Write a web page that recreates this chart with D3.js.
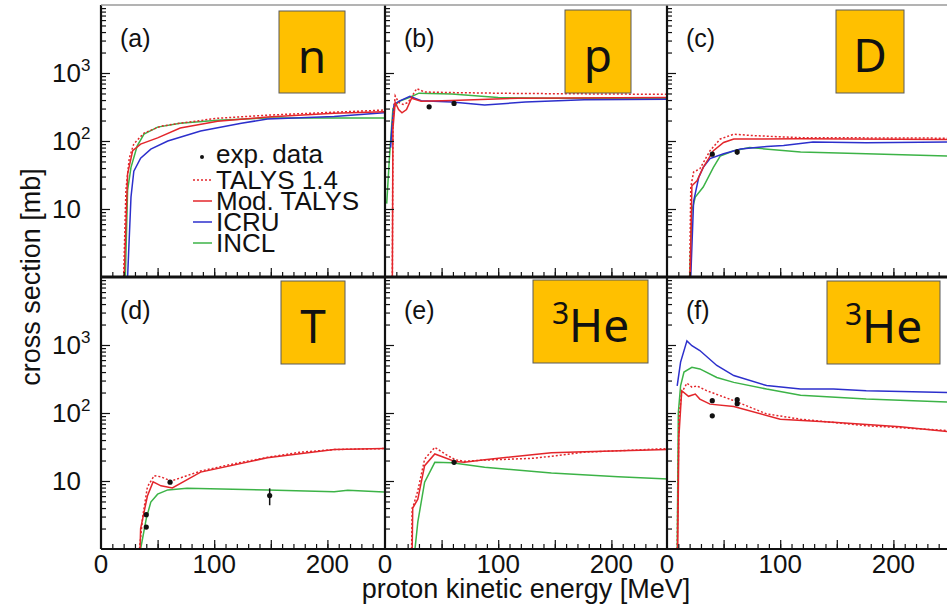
<!DOCTYPE html>
<html>
<head>
<meta charset="utf-8">
<script src="https://cdn.jsdelivr.net/npm/d3@7"></script>
<style>
  body { margin: 0; background: #fff; }
  svg { display: block; }
  text { font-family: "Liberation Sans", Arial, sans-serif; fill: #111; }
  .box text { font-family: "Noto Sans", "Open Sans", sans-serif; }
</style>
</head>
<body>
<div id="plot"></div>
<script>
const width = 947;
const height = 611;
const panelW = 283;
const panelH = 272;
const colX = [101, 385, 667];
const rowY = [5, 277];

// ----- DATA ------------------------------------//
// [energy MeV, cross section mb]
const energyTicks = [0, 100, 200];
const decadeTicks = [10, 100, 1000];
const panelNames = ["(a)", "(b)", "(c)", "(d)", "(e)", "(f)"];
const particles = ["n", "p", "D", "T", "3He", "3He"];

// (a) n
const nTalys = [[20,1],[22,19],[25,56],[29,91],[38,131],[53,165],[70,183],[103,216],[147,240],[206,265],[250,285]];
const nMod = [[20.5,1],[23.5,33],[28,72],[35,90],[50,111],[70,155],[103,195],[147,225],[206,255],[250,270]];
const nIcru = [[23.5,1],[26.5,15],[29,36],[35,56],[44,76],[59,100],[88,140],[124,183],[147,210],[206,230],[250,260]];
const nIncl = [[21.5,1],[23.5,19],[26.5,41],[32,85],[38,126],[50,160],[70,183],[103,202],[147,218],[206,218],[250,218]];
const nExp = [];

// (b) p
const pTalys = [[6.5,1],[7,200],[9,460],[12,370],[16,345],[20.5,370],[28,590],[35,525],[59,515],[118,500],[250,485]];
const pMod = [[6.5,1],[7,150],[9,370],[12,290],[15,260],[19,290],[23.5,425],[32,385],[59,395],[118,425],[250,435]];
const pIcru = [[5,80],[6,150],[8,345],[13,390],[22,455],[32,390],[59,375],[88,337],[124,375],[176,405],[250,410]];
const pIncl = [[1.5,12],[4,60],[7,300],[12,380],[22,440],[30,505],[59,490],[100,435],[150,425],[250,425]];
const pExp = [[39,318],[61,357]];

// (c) D
const dTalys = [[20,1],[21,21],[23.5,35],[29,39],[38,72],[47,107],[59,126],[76,120],[118,112],[250,110]];
const dMod = [[20.5,1],[22,22],[26.5,26],[32,41],[41,72],[50,95],[59,107],[118,108],[250,105]];
const dIcru = [[21,1],[23.5,13],[28,29],[32,41],[38,55],[50,65],[65,76],[88,83],[103,86],[129,97],[176,94],[250,97]];
const dIncl = [[20,1],[22,9.5],[25,15],[32,21],[41,41],[47,60],[59,72],[73,80],[118,69],[176,65],[250,60]];
const dExp = [[40,64],[62,69,63,75]];

// (d) T
const tTalys = [[34,1],[37,3.1],[41,8.2],[47,12],[53,11.5],[62,10],[88,14],[118,18],[147,22.3],[176,26.5],[206,29],[250,30]];
const tMod = [[34.5,1],[35,2],[41,6],[46,9.7],[53,8.5],[63,7.9],[88,13.5],[147,22],[206,29],[250,30]];
const tIncl = [[35,1],[40,2.8],[44,4.9],[50,6.4],[59,7.4],[76,7.8],[147,7.4],[206,6.95],[218,7.3],[250,6.9]];
const tExp = [[40,3.2],[40,2.1],[61,9.6],[149,6.1,4.4,7.8]];

// (e) 3He
const eTalys = [[23.5,1],[24,4],[25,4.3],[29,7.2],[35,21],[44,31.3],[53,25],[62,20.5],[70,19.5],[88,20.3],[132,21.6],[176,26.5],[250,30]];
const eMod = [[24,1],[24.5,4],[29,5.4],[35,16.8],[44,25],[53,22],[62,19.3],[70,18.8],[88,20.6],[147,26],[176,27],[250,29]];
const eIncl = [[26.5,1],[29,2.5],[35,9.6],[44,18.8],[59,18.5],[88,15.9],[147,13.1],[206,11.5],[250,10.7]];
const eExp = [[61,18.8,17.5,20.5]];

// (f) 3He
const fTalys = [[9,1],[10.5,82],[13,200],[17.6,275],[22,240],[26.5,250],[35,213],[59,152],[88,97],[118,81],[176,65],[250,55]];
const fMod = [[9.5,1],[10.5,45],[13,213],[19,176],[25,190],[29,160],[38,135],[59,125],[100,81],[147,73],[206,63],[250,53]];
const fIcru = [[9,250],[12,560],[17.6,1150],[22,975],[29,830],[44,500],[59,355],[88,253],[118,225],[147,225],[176,213],[250,200]];
const fIncl = [[9,1],[10,100],[12,250],[15,400],[22,470],[29,445],[44,333],[59,282],[88,225],[118,183],[176,160],[250,145]];
const fExp = [[40,152],[40,91],[62,157,148,166],[62,137]];

const panelData = [
    { talys: nTalys, mod: nMod, icru: nIcru, incl: nIncl, exp: nExp },
    { talys: pTalys, mod: pMod, icru: pIcru, incl: pIncl, exp: pExp },
    { talys: dTalys, mod: dMod, icru: dIcru, incl: dIncl, exp: dExp },
    { talys: tTalys, mod: tMod, icru: null, incl: tIncl, exp: tExp },
    { talys: eTalys, mod: eMod, icru: null, incl: eIncl, exp: eExp },
    { talys: fTalys, mod: fMod, icru: fIcru, incl: fIncl, exp: fExp }
];

const red = "#e3262b";
const blue = "#2c2fcc";
const green = "#3cb347";

const seriesStyle = [
    { key: "talys", label: "TALYS 1.4", color: red, dash: "2,2" },
    { key: "mod", label: "Mod. TALYS", color: red, dash: null },
    { key: "icru", label: "ICRU", color: blue, dash: null },
    { key: "incl", label: "INCL", color: green, dash: null }
];

// label boxes, hand placed like the original overlay
const boxes = [
    [279, 11, 66, 82], [565, 10, 66, 83], [836, 10, 68, 83],
    [281, 281, 64, 83], [533, 280, 115, 83], [827, 281, 113, 83]
];

// ----- SVG ------------------------------------//
var svg = d3.select("#plot").append("svg")
    .attr("width", width)
    .attr("height", height);

svg.append("defs");

panelData.forEach(function (pd, i) {
    const col = i % 3;
    const row = Math.floor(i / 3);
    const x0 = colX[col];
    const y0 = rowY[row];

    const xScl = d3.scaleLinear().domain([0, 250]).range([x0, x0 + panelW]);
    const yScl = d3.scaleLog().domain([1, 1e4]).range([y0 + panelH, y0]);

    const clipId = "clip" + i;
    svg.select("defs").append("clipPath").attr("id", clipId)
        .append("rect")
        .attr("x", x0).attr("y", y0)
        .attr("width", panelW).attr("height", panelH);

    const g = svg.append("g");
    const lines = g.append("g").attr("clip-path", "url(#" + clipId + ")");

    const line = d3.line()
        .x(d => xScl(d[0]))
        .y(d => yScl(d[1]));

    // draw green, blue, solid red, then dotted red on top
    ["incl", "icru", "mod", "talys"].forEach(function (k) {
        if (!pd[k]) return;
        const st = seriesStyle.find(s => s.key === k);
        lines.append("path")
            .attr("d", line(pd[k]))
            .attr("fill", "none")
            .attr("stroke", st.color)
            .attr("stroke-width", 1.5)
            .attr("stroke-dasharray", st.dash);
    });

    // exp points
    const pts = lines.selectAll(".exp").data(pd.exp).enter().append("g");
    pts.filter(d => d.length > 2).append("line")
        .attr("x1", d => xScl(d[0])).attr("x2", d => xScl(d[0]))
        .attr("y1", d => yScl(d[2])).attr("y2", d => yScl(d[3]))
        .attr("stroke", "#111").attr("stroke-width", 1.5);
    pts.append("circle")
        .attr("cx", d => xScl(d[0]))
        .attr("cy", d => yScl(d[1]))
        .attr("r", 2.6)
        .attr("fill", "#111");

    // y ticks (inward)
    const minor = [];
    for (let e = 0; e < 4; e++) {
        for (let m = 2; m < 10; m++) minor.push(m * Math.pow(10, e));
    }
    const yMinor = d3.axisLeft(yScl).tickValues(minor).tickSize(-5).tickFormat("");
    const yMajor = d3.axisLeft(yScl).tickValues([10, 100, 1000]).tickSize(-9).tickFormat("");
    g.append("g").attr("transform", "translate(" + x0 + ",0)").call(yMinor)
        .call(a => a.select(".domain").remove());
    g.append("g").attr("transform", "translate(" + x0 + ",0)").call(yMajor)
        .call(a => a.select(".domain").remove());

    // x ticks (inward)
    const xMinor = d3.axisBottom(xScl).tickValues(d3.range(10, 250, 10)).tickSize(-5).tickFormat("");
    const xMajor = d3.axisBottom(xScl).tickValues([50, 100, 150, 200]).tickSize(-9).tickFormat("");
    g.append("g").attr("transform", "translate(0," + (y0 + panelH) + ")").call(xMinor)
        .call(a => a.select(".domain").remove());
    g.append("g").attr("transform", "translate(0," + (y0 + panelH) + ")").call(xMajor)
        .call(a => a.select(".domain").remove());
    g.selectAll(".tick line").attr("stroke", "#111").attr("stroke-width", 1.2);

    // left frame line
    g.append("line")
        .attr("x1", x0).attr("x2", x0)
        .attr("y1", y0).attr("y2", y0 + panelH)
        .attr("stroke", "#111").attr("stroke-width", 2.2);

    // y labels only on left column
    if (col === 0) {
        decadeTicks.forEach(function (v) {
            const exp = Math.round(Math.log10(v));
            const t = g.append("text")
                .attr("x", 52)
                .attr("y", yScl(v) + 9)
                .style("font-size", "26px");
            t.append("tspan").text("10");
            if (exp > 1) {
                t.append("tspan").attr("dy", -11).style("font-size", "17px").text(exp);
            }
        });
    }

    // x labels only on bottom row
    if (row === 1) {
        energyTicks.forEach(function (v) {
            g.append("text")
                .attr("x", xScl(v))
                .attr("y", 573)
                .attr("text-anchor", "middle")
                .style("font-size", "26px")
                .text(v);
        });
    }

    // panel tag
    g.append("text")
        .attr("x", x0 + 19)
        .attr("y", y0 + 42)
        .style("font-size", "25px")
        .text(panelNames[i]);

    // particle box
    const b = boxes[i];
    const bx = svg.append("g").attr("class", "box");
    bx.append("rect")
        .attr("x", b[0]).attr("y", b[1])
        .attr("width", b[2]).attr("height", b[3])
        .attr("fill", "#ffc000")
        .attr("stroke", "#5a5a5a")
        .attr("stroke-width", 1);
    const lt = bx.append("text")
        .attr("x", b[0] + b[2] / 2)
        .attr("y", b[1] + 62)
        .attr("text-anchor", "middle")
        .style("font-size", "46px");
    if (particles[i] === "3He") {
        lt.append("tspan").attr("dy", -18).style("font-size", "30px").text("3");
        lt.append("tspan").attr("dy", 18).text("He");
    } else {
        lt.text(particles[i]);
    }
});

// row frame lines
svg.append("line")
    .attr("x1", colX[0]).attr("x2", width)
    .attr("y1", rowY[0]).attr("y2", rowY[0])
    .attr("stroke", "#9a9a9a").attr("stroke-width", 1.5);
svg.append("line")
    .attr("x1", colX[0]).attr("x2", width)
    .attr("y1", rowY[1]).attr("y2", rowY[1])
    .attr("stroke", "#111").attr("stroke-width", 3);
svg.append("line")
    .attr("x1", colX[0]).attr("x2", width)
    .attr("y1", rowY[1] + panelH).attr("y2", rowY[1] + panelH)
    .attr("stroke", "#111").attr("stroke-width", 2.2);

// ----- LEGEND (panel a) ------------------------//
const legend = svg.append("g");
const legY = [157, 180, 201, 222, 243];
legend.append("circle").attr("cx", 202).attr("cy", legY[0]).attr("r", 2).attr("fill", "#111");
legend.append("text").attr("x", 216).attr("y", legY[0] + 6).style("font-size", "26px").text("exp. data");
seriesStyle.forEach(function (s, k) {
    legend.append("line")
        .attr("x1", 193).attr("x2", 212)
        .attr("y1", legY[k + 1]).attr("y2", legY[k + 1])
        .attr("stroke", s.color)
        .attr("stroke-width", 1.5)
        .attr("stroke-dasharray", s.dash);
    legend.append("text")
        .attr("x", 216).attr("y", legY[k + 1] + 9)
        .style("font-size", "26px")
        .text(s.label);
});

// ----- AXIS TITLES ------------------------------//
svg.append("text")
    .attr("transform", "translate(40,277) rotate(-90)")
    .attr("text-anchor", "middle")
    .style("font-size", "27px")
    .text("cross section [mb]");

svg.append("text")
    .attr("x", 526)
    .attr("y", 598)
    .attr("text-anchor", "middle")
    .style("font-size", "27px")
    .text("proton kinetic energy [MeV]");
</script>
</body>
</html>
